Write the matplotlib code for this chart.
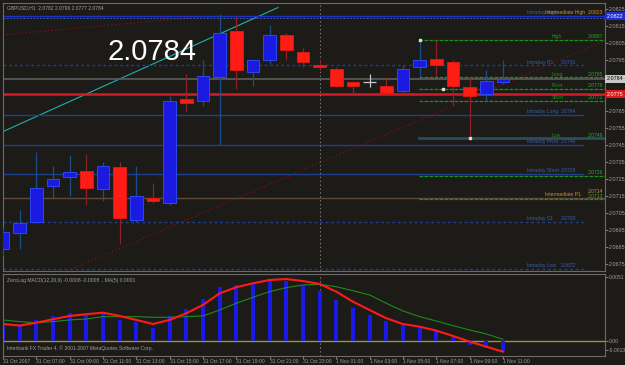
import numpy as np
import matplotlib
matplotlib.use('Agg')
import matplotlib.pyplot as plt

# GBPUSD H1 candles, 31 Oct 05:00 -> 1 Nov 11:00
opens = [2.0684, 2.0693, 2.0700, 2.0721, 2.0726, 2.0730, 2.0719, 2.0732, 2.0701, 2.0714,
         2.0711, 2.0772, 2.0771, 2.0785, 2.0812, 2.0788, 2.0795, 2.0810, 2.0800, 2.0792,
         2.0790, 2.0782, 2.0782, 2.0780, 2.0777, 2.0791, 2.0796, 2.0794, 2.0779, 2.0775,
         2.0782]
highs = [2.0696, 2.0707, 2.0741, 2.0733, 2.0739, 2.0740, 2.0735, 2.0735, 2.0733, 2.0723,
         2.0774, 2.0787, 2.0795, 2.0822, 2.0821, 2.0796, 2.0816, 2.0811, 2.0802, 2.0796,
         2.0791, 2.0782, 2.0787, 2.0785, 2.0792, 2.0807, 2.0807, 2.0795, 2.0785, 2.0789,
         2.0795]
lows = [2.0680, 2.0684, 2.0699, 2.0713, 2.0715, 2.0710, 2.0712, 2.0687, 2.0700, 2.0711,
        2.0710, 2.0765, 2.0768, 2.0745, 2.0778, 2.0780, 2.0793, 2.0795, 2.0791, 2.0789,
        2.0779, 2.0775, 2.0779, 2.0775, 2.0776, 2.0786, 2.0786, 2.0768, 2.0749, 2.0771,
        2.0781]
closes = [2.0694, 2.0699, 2.0720, 2.0725, 2.0729, 2.0720, 2.0733, 2.0702, 2.0715, 2.0712,
          2.0771, 2.0770, 2.0786, 2.0811, 2.0789, 2.0795, 2.0810, 2.0801, 2.0794, 2.0791,
          2.0780, 2.0780, 2.0782, 2.0776, 2.0790, 2.0795, 2.0792, 2.0780, 2.0774, 2.0783,
          2.0784]

time_labels = ['31 Oct 2007', '31 Oct 07:00', '31 Oct 09:00', '31 Oct 11:00', '31 Oct 13:00',
               '31 Oct 15:00', '31 Oct 17:00', '31 Oct 19:00', '31 Oct 21:00', '31 Oct 23:00',
               '1 Nov 01:00', '1 Nov 03:00', '1 Nov 05:00', '1 Nov 07:00', '1 Nov 09:00',
               '1 Nov 11:00']

# ZeroLag MACD subwindow
macd_hist = [0.0012, 0.0011, 0.0016, 0.0019, 0.0021, 0.0020, 0.0021, 0.0016, 0.0014, 0.0010,
             0.0019, 0.0024, 0.00315, 0.0041, 0.0042, 0.0044, 0.0046, 0.0045, 0.0042, 0.0038,
             0.0031, 0.0025, 0.0020, 0.0015, 0.0012, 0.0010, 0.0008, 0.0004, -0.0003, -0.0005,
             -0.0008]
macd_red = [0.00128, 0.00116, 0.00138, 0.00164, 0.00189, 0.00202, 0.00214, 0.00189, 0.00159,
            0.00128, 0.00159, 0.00209, 0.00272, 0.0036, 0.00406, 0.00436, 0.00461, 0.00468,
            0.00453, 0.00431, 0.00373, 0.00297, 0.00234, 0.00172, 0.00128, 0.00108, 0.00078,
            0.00038, -0.00005, -0.00043, -0.00081]
macd_green = [0.00159, 0.00146, 0.00138, 0.00146, 0.00159, 0.00166, 0.00184, 0.00184, 0.00184,
              0.00179, 0.00179, 0.00184, 0.00189, 0.00234, 0.00285, 0.0033, 0.00373, 0.00403,
              0.00423, 0.00428, 0.0041, 0.0038, 0.00348, 0.00285, 0.00227, 0.00184, 0.00151,
              0.00116, 0.00083, 0.00053, 0.00013]
macd_tick_pos = [0.00484, 0.0, -0.00068]
macd_tick_labels = ['0.0051', '0.00', '-0.0013']

# pivot levels: (name, price, value text)
intraday_levels = [('Intraday R1', 2.0792, '2.0792'), ('Intraday Long', 2.0763, '2.0764'),
                   ('Intraday Pivot', 2.0745, '2.0746'), ('Intraday Short', 2.0728, '2.0728'),
                   ('Intraday S1', 2.0700, '2.0700'), ('Intraday Low', 2.0672, '2.0672')]
daily_levels = [('High', 2.0807, '2.0807'), ('Long', 2.0785, '2.0785'), ('Pivot', 2.0778, '2.0778'),
                ('Short', 2.0771, '2.0771'), ('Low', 2.0749, '2.0749'), ('', 2.0727, '2.0726'),
                ('', 2.0713, '2.0713')]
intraday_high = 2.0821
intermediate_p1 = 2.0714
red_level = 2.0775

BG = '#1c1b17'
GREY = '#a0a0a0'
BLUE = '#1a1ae0'
RED = '#ff1c14'
IBLUE = '#1c3f90'
ITEXT = '#3a5eb0'
GREEN = '#1f8f1f'
ORANGE = '#d2902c'
SMALL = 3.6

plt.rcParams['font.family'] = ['Liberation Sans', 'DejaVu Sans']

fig = plt.figure(figsize=(6.25, 3.65), dpi=100, facecolor=BG)
W, H = 625.0, 365.0
ax = fig.add_axes([3 / W, 1 - 271 / H, 602 / W, 268 / H], facecolor=BG)
ax2 = fig.add_axes([3 / W, 1 - 355.5 / H, 602 / W, 82 / H], facecolor=BG, sharex=ax)

n = len(opens)
x = np.arange(n)
ax.set_xlim(0.018, 36.13)
ax.set_ylim(2.06709, 2.08287)
ax2.set_ylim(-0.0011, 0.0051)

for a in (ax, ax2):
    for s in a.spines.values():
        s.set_color('#6a6a6a')
        s.set_linewidth(0.8)
    a.yaxis.tick_right()
    a.tick_params(axis='y', colors='#7a7a7a', labelcolor=GREY, labelsize=3.9, length=2, pad=1)
    a.tick_params(axis='x', colors='#7a7a7a', labelcolor=GREY, labelsize=SMALL, length=2, pad=0.6)
ax2.tick_params(axis='y', labelsize=3.6, pad=0.8)

# ---- lines behind the candles
right = 36.13
ax.plot([0, 12.5], [2.0810, 2.0821], color='#8a0c18', lw=0.9, ls=(0, (1, 2)))
ax.plot([0, 16.5], [2.0753, 2.0826], color='#1eb0b0', lw=0.8)
ax.plot([2.2, 36], [2.0664, 2.0806], color='#8a0c18', lw=0.9, ls=(0, (1, 2)))

ax.axhline(intraday_high, color='#2030c8', lw=1.0)
ax.axhline(intraday_high - 0.0001, color='#3a6ad0', lw=0.6, ls=(0, (2, 2)))
ax.axhline(closes[-1], color='#5c5c5c', lw=1.2)
ax.axhline(red_level, color='#d41a28', lw=1.8)
ax.axhline(intermediate_p1, color='#5e4a3a', lw=1.0)

for name, val, txt in intraday_levels:
    ls = (0, (2, 2)) if name in ('Intraday R1', 'Intraday S1', 'Intraday Low') else '-'
    ax.plot([0, 34.8], [val, val], color=IBLUE, lw=1.0, ls=ls)
    ax.annotate(name, (31.45, val), xytext=(0, 0.5), textcoords='offset points',
                color=ITEXT, fontsize=SMALL, va='bottom', annotation_clip=False)
    ax.annotate(txt, (33.5, val), xytext=(0, 0.5), textcoords='offset points',
                color=ITEXT, fontsize=SMALL, va='bottom', annotation_clip=False)

for name, val, txt in daily_levels:
    if name == 'Low':
        ax.plot([24.95, right], [val, val], color='#2c4b5c', lw=2.0)
    else:
        ax.plot([24.95, right], [val, val], color=GREEN, lw=0.9, ls=(0, (3, 1)))
    if name:
        ax.annotate(name, (32.95, val), xytext=(0, 0.5), textcoords='offset points',
                    color=GREEN, fontsize=SMALL, va='bottom')
    ax.annotate(txt, (35.1, val), xytext=(0, 0.5), textcoords='offset points',
                color='#2aa82a', fontsize=SMALL, va='bottom')

ax.annotate('Intraday High', (31.45, intraday_high), xytext=(0, 1), textcoords='offset points',
            color=ITEXT, fontsize=SMALL, va='bottom')
ax.annotate('Intermediate High', (32.55, intraday_high), xytext=(0, 1), textcoords='offset points',
            color=ORANGE, fontsize=SMALL, va='bottom')
ax.annotate('2.0823', (35.1, intraday_high), xytext=(0, 1), textcoords='offset points',
            color=ORANGE, fontsize=SMALL, va='bottom')
ax.annotate('Intermediate P1', (32.55, intermediate_p1), xytext=(0, 0.5), textcoords='offset points',
            color=ORANGE, fontsize=SMALL, va='bottom')
ax.annotate('2.0714', (35.1, intermediate_p1), xytext=(0, 2.5), textcoords='offset points',
            color=ORANGE, fontsize=SMALL, va='bottom')

# period separator and vertical line
for a in (ax, ax2):
    a.axvline(19, color='#7a7a7a', lw=0.7, ls=(0, (1.5, 2.5)))
ax.plot([13, 13], [2.0745, 2.0821], color='#1c5a9a', lw=0.8, ls=(0, (2, 1)))

# ---- candles
body_w = 0.76
for i in range(n):
    o, h, l, c = opens[i], highs[i], lows[i], closes[i]
    if c > o:
        face, edge, wick = BLUE, '#2c48f0', '#1c4c8c'
    elif c < o:
        face, edge, wick = RED, '#d81a14', '#8c2222'
    else:
        face, edge, wick = '#c8c8c8', '#c8c8c8', '#c8c8c8'
    ax.vlines(i, l, h, color=wick, lw=0.9, zorder=3)
    if c == o:
        ax.hlines(o, i - body_w / 2, i + body_w / 2, color=face, lw=0.9, zorder=4)
    else:
        ax.bar(i, abs(c - o), bottom=min(o, c), width=body_w, color=face,
               edgecolor=edge, lw=0.7, zorder=4)

ax.plot([25, 28, 26.4], [highs[25], lows[28], 2.0778], ls='none', marker='s', ms=1.6,
        color='#e0e0c8', zorder=5)

# ---- right axis for price
ticks = 2.0825 - 0.001 * np.arange(16)
ax.set_yticks(ticks)
ax.set_yticklabels([f'{t:.4f}' for t in ticks])
ax.tick_params(axis='x', labelbottom=False, length=0)

# price boxes sit on top of the axis labels, like the terminal does
for val, txt, fc, tc in [(intraday_high, '2.0822', '#2030d8', 'white'),
                         (closes[-1], '2.0784', '#c8c8c8', 'black'),
                         (red_level, '2.0775', '#e01a1a', 'white')]:
    ax.annotate(txt, (1.0, val), xycoords=('axes fraction', 'data'), xytext=(1.2, 0),
                textcoords='offset points', color=tc, fontsize=3.9, va='center', ha='left',
                bbox=dict(boxstyle='square,pad=0.3', fc=fc, ec='none'),
                annotation_clip=False, zorder=20)

ax.text(0.006, 0.99, 'GBPUSD,H1  2.0782 2.0796 2.0777 2.0784', transform=ax.transAxes,
        color=GREY, fontsize=SMALL, va='top', ha='left')
ax.text(0.173, 0.787, f'{closes[-1]:.4f}', transform=ax.transAxes, color='white',
        fontsize=21, va='baseline', ha='left')

# ---- indicator
ax2.axhline(0, color='#9a9440', lw=1.0, zorder=1)
ax2.bar(x, macd_hist, width=0.24, color='#1a1ae8', zorder=2)
ax2.plot(x, macd_green, color='#1e8a1e', lw=0.8, zorder=3)
ax2.plot(x, macd_red, color='#ff1a1a', lw=1.5, zorder=4)
ax2.set_yticks(macd_tick_pos)
ax2.set_yticklabels(macd_tick_labels)
ax2.text(0.006, 0.95, 'ZeroLag MACD(12,26,9) -0.0008 -0.0008 ...MA(5) 0.0001',
         transform=ax2.transAxes, color=GREY, fontsize=SMALL, va='top', ha='left')
ax2.text(0.006, 0.05, 'Interbank FX Trader 4, \u00a9 2001-2007 MetaQuotes Software Corp.',
         transform=ax2.transAxes, color=GREY, fontsize=SMALL, va='bottom', ha='left')

ax2.set_xticks(x[::2])
ax2.set_xticklabels(time_labels, ha='left')

fig.savefig('out.png', dpi=100, facecolor=BG)
